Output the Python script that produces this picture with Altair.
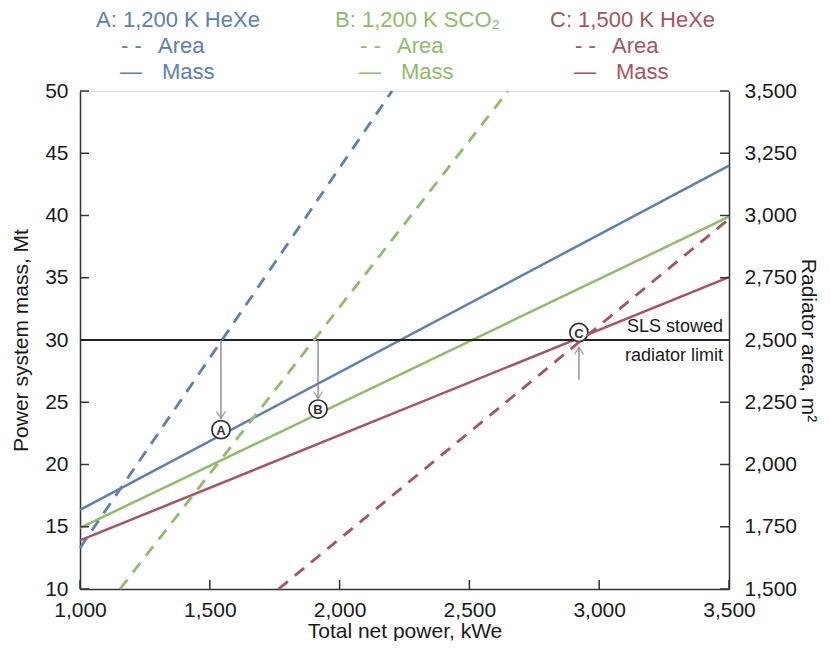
import altair as alt
import pandas as pd

# ---------------- data ----------------
series = ["A", "B", "C"]
series_colors = ["#5b80b2", "#8fbc68", "#a6545d"]
legend_titles = ["A: 1,200 K HeXe", "B: 1,200 K SCO\u2082", "C: 1,500 K HeXe"]

# solid lines: power system mass (Mt), left axis
mass_power = [1000, 3500]
mass_A = [16.35, 44.0]
mass_B = [14.9, 39.9]
mass_C = [13.9, 35.05]

# dashed lines: radiator area (m2), right axis
area_A_power = [1000, 2202]
area_A = [1665, 3500]
area_B_power = [1154, 2649]
area_B = [1500, 3500]
area_C_power = [1765, 3500]
area_C = [1500, 2986]

limit_mass = [30]
limit_labels = ["SLS stowed", "radiator limit"]

marker_letters = ["A", "B", "C"]
marker_power = [1543, 1917, 2922]
marker_mass = [22.8, 24.45, 30.6]
arrow_start = [30, 30, 26.8]
arrow_end = [23.7, 25.3, 29.4]
arrow_dir = [0, 0, 180]

x_ticks = [1000, 1500, 2000, 2500, 3000, 3500]
left_ticks = [10, 15, 20, 25, 30, 35, 40, 45, 50]
right_ticks = [1500, 1750, 2000, 2250, 2500, 2750, 3000, 3250, 3500]

# ---------------- tables ----------------
mass_df = pd.DataFrame({
    "series": sum([[s] * 2 for s in series], []),
    "power": mass_power * 3,
    "mass": mass_A + mass_B + mass_C,
})
area_df = pd.DataFrame({
    "series": ["A"] * 2 + ["B"] * 2 + ["C"] * 2,
    "power": area_A_power + area_B_power + area_C_power,
    "area": area_A + area_B + area_C,
})
marker_df = pd.DataFrame({
    "letter": marker_letters, "power": marker_power, "mass": marker_mass,
    "start": arrow_start, "end": arrow_end, "dir": arrow_dir,
})

FONT = "Liberation Sans, Arial, Helvetica, sans-serif"
INK = "#1a1a1a"
AX = "#333333"
W, H = 649, 498

x_scale = alt.Scale(domain=[1000, 3500], nice=False, zero=False)
y_mass = alt.Scale(domain=[10, 50], nice=False, zero=False)
y_area = alt.Scale(domain=[1500, 3500], nice=False, zero=False)
color_scale = alt.Scale(domain=series, range=series_colors)

common = dict(grid=False, ticks=False, domainColor=AX, domainWidth=1.5,
              labelFontSize=21, titleFontSize=21, labelFont=FONT, titleFont=FONT,
              labelColor=INK, titleColor=INK, titleFontWeight="normal")

x_axis = alt.Axis(values=x_ticks, format=",d", title="Total net power, kWe",
                  labelPadding=10, titlePadding=0, labelFlush=False, **common)
left_axis = alt.Axis(values=left_ticks, title="Power system mass, Mt", orient="left",
                     labelPadding=12, titlePadding=13, **common)
right_axis = alt.Axis(values=right_ticks, format=",d", title="Radiator area, m\u00b2",
                      orient="right", labelPadding=15, titlePadding=1, **common)

X = alt.X("power:Q", scale=x_scale, axis=x_axis)
Ym = alt.Y("mass:Q", scale=y_mass, axis=left_axis)
Ya = alt.Y("area:Q", scale=y_area, axis=right_axis)

mass_lines = alt.Chart(mass_df).mark_line(strokeWidth=2.5).encode(
    x=X, y=Ym,
    color=alt.Color("series:N", scale=color_scale, legend=None),
)

# inward tick marks
x_tick_marks = alt.Chart(pd.DataFrame({"power": x_ticks})).mark_rule(
    color=AX, strokeWidth=1.5).encode(x=X, y=alt.value(H), y2=alt.value(H - 9))
left_tick_marks = alt.Chart(pd.DataFrame({"mass": left_ticks})).mark_rule(
    color=AX, strokeWidth=1.5).encode(y=Ym, x=alt.value(0), x2=alt.value(9))
right_tick_marks = alt.Chart(pd.DataFrame({"area": right_ticks})).mark_rule(
    color=AX, strokeWidth=1.5).encode(y=Ya, x=alt.value(W), x2=alt.value(W - 9))

limit_rule = alt.Chart(pd.DataFrame({"mass": limit_mass})).mark_rule(
    color="#222", strokeWidth=2
).encode(y=Ym)

limit_df = pd.DataFrame({"power": [3500, 3500], "mass": limit_mass * 2,
                         "label": limit_labels, "pos": ["top", "bottom"]})
limit_text = alt.Chart(limit_df).transform_filter("datum.pos == 'top'").mark_text(
    align="right", baseline="bottom", dx=-6, dy=-4, fontSize=18, font=FONT, color=INK
).encode(x=X, y=Ym, text="label:N")
limit_text2 = alt.Chart(limit_df).transform_filter("datum.pos == 'bottom'").mark_text(
    align="right", baseline="top", dx=-6, dy=7, fontSize=18, font=FONT, color=INK
).encode(x=X, y=Ym, text="label:N")

arrows = alt.Chart(marker_df).mark_rule(color="#808080", strokeWidth=1.3).encode(
    x=X, y=alt.Y("start:Q", scale=y_mass, axis=left_axis), y2="end:Q")
heads = alt.Chart(marker_df).mark_point(
    shape="M-0.9,-1.4L0,0L0.9,-1.4", size=100, color="#808080", strokeWidth=1.3,
    filled=False
).encode(x=X, y=alt.Y("end:Q", scale=y_mass, axis=left_axis),
         angle=alt.Angle("dir:Q", scale=None))
circles = alt.Chart(marker_df).mark_point(
    shape="circle", size=330, filled=True, fill="white", stroke="#333",
    strokeWidth=1.7, opacity=1
).encode(x=X, y=Ym)
letters = alt.Chart(marker_df).mark_text(
    fontSize=13, fontWeight="bold", font=FONT, color="#333", dy=1
).encode(x=X, y=Ym, text="letter:N")

# legend drawn as text
legend_layers = []
col_x = [16, 255, 470]
for s, c, t, x0 in zip(series, series_colors, legend_titles, col_x):
    d = pd.DataFrame({"t": [t], "a": ["- -"], "aw": ["Area"], "m": ["\u2014"], "mw": ["Mass"]})
    base = alt.Chart(d)
    kw = dict(align="left", baseline="middle", fontSize=22, font=FONT, color=c)
    legend_layers += [
        base.mark_text(**kw).encode(x=alt.value(x0), y=alt.value(-71), text="t:N"),
        base.mark_text(**kw).encode(x=alt.value(x0 + 25), y=alt.value(-45), text="a:N"),
        base.mark_text(**kw).encode(x=alt.value(x0 + 62), y=alt.value(-45), text="aw:N"),
        base.mark_text(**kw).encode(x=alt.value(x0 + 24), y=alt.value(-19), text="m:N"),
        base.mark_text(**kw).encode(x=alt.value(x0 + 66), y=alt.value(-19), text="mw:N"),
    ]

left = alt.layer(mass_lines, x_tick_marks, left_tick_marks, limit_rule, limit_text,
                 limit_text2, arrows, heads, circles, letters, *legend_layers)

area_lines = alt.Chart(area_df).mark_line(strokeWidth=2.8, strokeDash=[12, 9]).encode(
    x=X, y=Ya,
    color=alt.Color("series:N", scale=color_scale, legend=None),
)
right = alt.layer(area_lines, right_tick_marks)

chart = alt.layer(left, right).resolve_scale(y="independent").properties(
    width=W, height=H,
    autosize=alt.AutoSizeParams(type="none"),
    padding={"left": 72, "top": 83, "right": 93, "bottom": 52},
).configure_view(strokeWidth=0).configure(background="white")

chart.save("out.html", embed_options={"renderer": "svg", "actions": False})
